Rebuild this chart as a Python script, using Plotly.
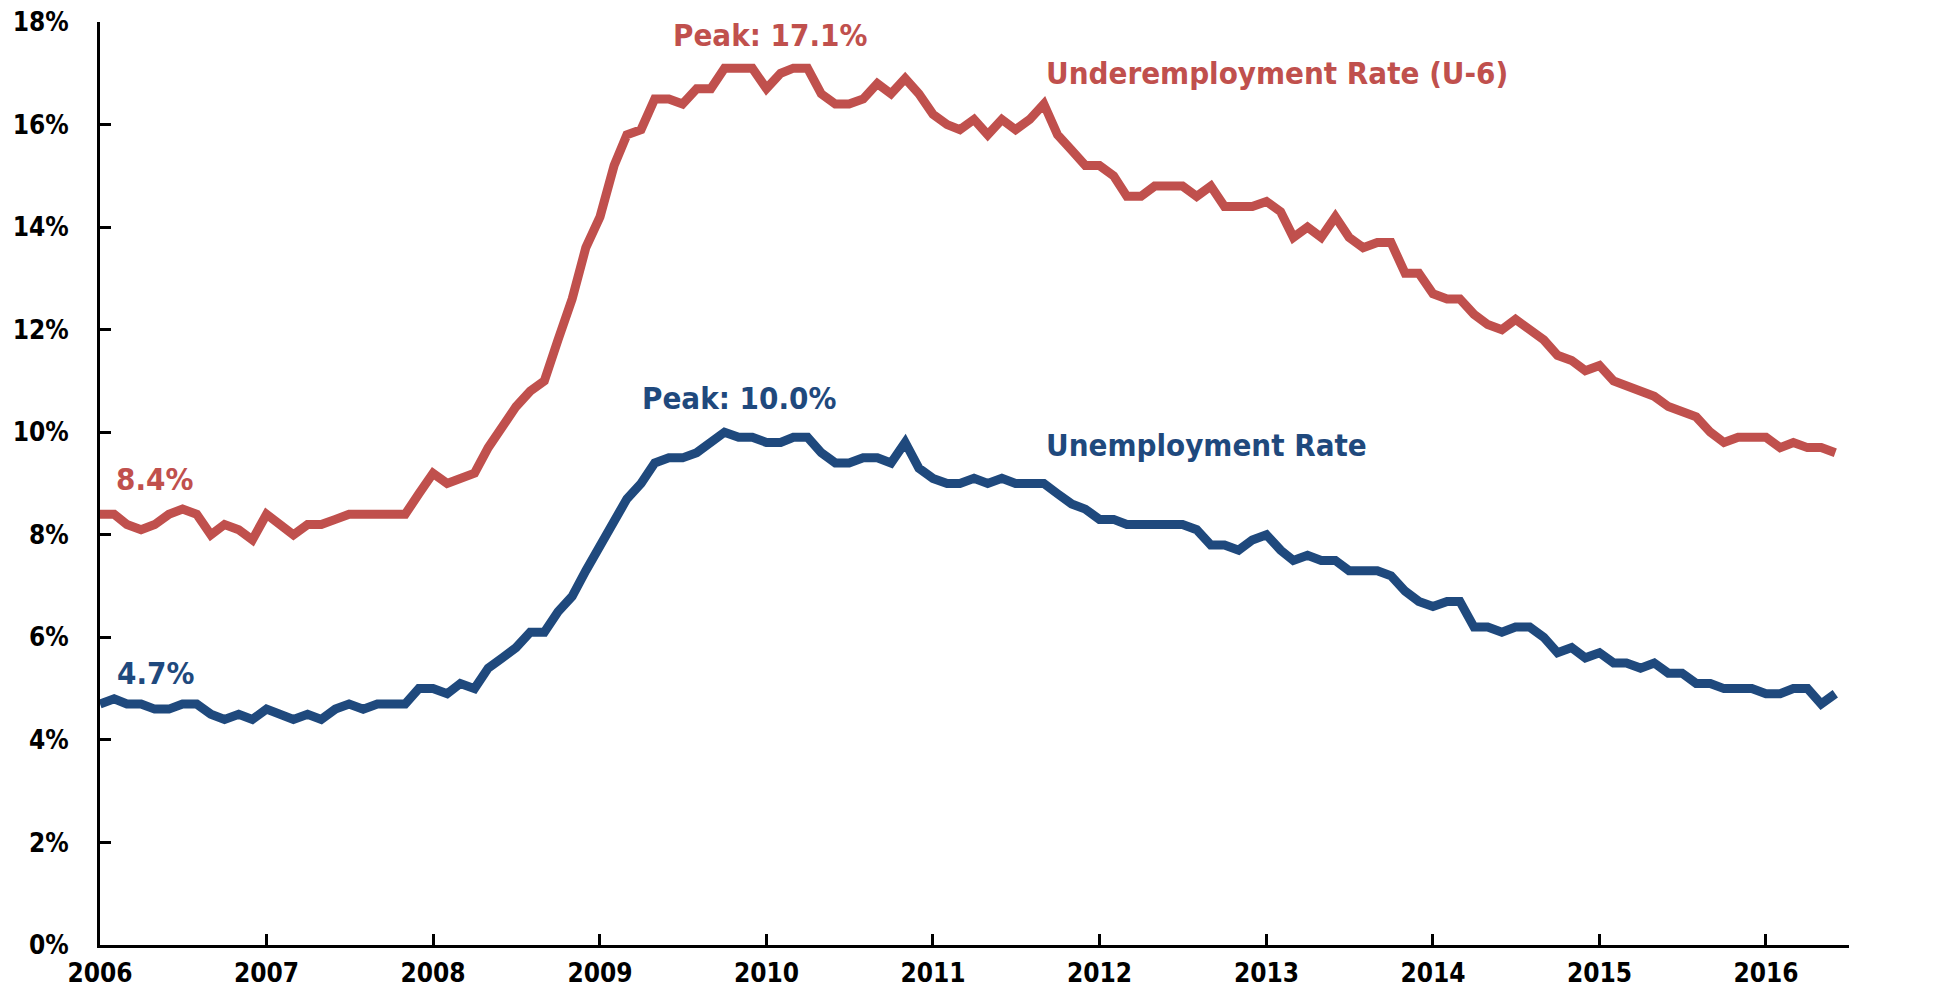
import plotly.graph_objects as go
import pandas as pd

# Monthly data, Jan 2006 - Jun 2016
months = pd.date_range("2006-01-01", "2016-06-01", freq="MS")

unemployment = [
    4.7, 4.8, 4.7, 4.7, 4.6, 4.6, 4.7, 4.7, 4.5, 4.4, 4.5, 4.4,   # 2006
    4.6, 4.5, 4.4, 4.5, 4.4, 4.6, 4.7, 4.6, 4.7, 4.7, 4.7, 5.0,   # 2007
    5.0, 4.9, 5.1, 5.0, 5.4, 5.6, 5.8, 6.1, 6.1, 6.5, 6.8, 7.3,   # 2008
    7.8, 8.3, 8.7, 9.0, 9.4, 9.5, 9.5, 9.6, 9.8, 10.0, 9.9, 9.9,  # 2009
    9.8, 9.8, 9.9, 9.9, 9.6, 9.4, 9.4, 9.5, 9.5, 9.4, 9.8, 9.3,   # 2010
    9.1, 9.0, 9.0, 9.1, 9.0, 9.1, 9.0, 9.0, 9.0, 8.8, 8.6, 8.5,   # 2011
    8.3, 8.3, 8.2, 8.2, 8.2, 8.2, 8.2, 8.1, 7.8, 7.8, 7.7, 7.9,   # 2012
    8.0, 7.7, 7.5, 7.6, 7.5, 7.5, 7.3, 7.3, 7.3, 7.2, 6.9, 6.7,   # 2013
    6.6, 6.7, 6.7, 6.2, 6.2, 6.1, 6.2, 6.2, 6.0, 5.7, 5.8, 5.6,   # 2014
    5.7, 5.5, 5.5, 5.4, 5.5, 5.3, 5.3, 5.1, 5.1, 5.0, 5.0, 5.0,   # 2015
    4.9, 4.9, 5.0, 5.0, 4.7, 4.9,                                 # 2016
]

underemployment = [
    8.4, 8.4, 8.2, 8.1, 8.2, 8.4, 8.5, 8.4, 8.0, 8.2, 8.1, 7.9,        # 2006
    8.4, 8.2, 8.0, 8.2, 8.2, 8.3, 8.4, 8.4, 8.4, 8.4, 8.4, 8.8,        # 2007
    9.2, 9.0, 9.1, 9.2, 9.7, 10.1, 10.5, 10.8, 11.0, 11.8, 12.6, 13.6, # 2008
    14.2, 15.2, 15.8, 15.9, 16.5, 16.5, 16.4, 16.7, 16.7, 17.1, 17.1, 17.1,  # 2009
    16.7, 17.0, 17.1, 17.1, 16.6, 16.4, 16.4, 16.5, 16.8, 16.6, 16.9, 16.6,  # 2010
    16.2, 16.0, 15.9, 16.1, 15.8, 16.1, 15.9, 16.1, 16.4, 15.8, 15.5, 15.2,  # 2011
    15.2, 15.0, 14.6, 14.6, 14.8, 14.8, 14.8, 14.6, 14.8, 14.4, 14.4, 14.4,  # 2012
    14.5, 14.3, 13.8, 14.0, 13.8, 14.2, 13.8, 13.6, 13.7, 13.7, 13.1, 13.1,  # 2013
    12.7, 12.6, 12.6, 12.3, 12.1, 12.0, 12.2, 12.0, 11.8, 11.5, 11.4, 11.2,  # 2014
    11.3, 11.0, 10.9, 10.8, 10.7, 10.5, 10.4, 10.3, 10.0, 9.8, 9.9, 9.9,     # 2015
    9.9, 9.7, 9.8, 9.7, 9.7, 9.6,                                            # 2016
]

year_ticks = [f"{y}-01-01" for y in range(2006, 2017)]
year_labels = [str(y) for y in range(2006, 2017)]
y_ticks = list(range(0, 19, 2))

RED = "#C0504D"
BLUE = "#1F497D"
FONT = "DejaVu Sans Condensed, DejaVu Sans, sans-serif"

fig = go.Figure()
fig.add_trace(go.Scatter(x=months, y=underemployment, mode="lines",
                         line=dict(color=RED, width=9), cliponaxis=False,
                         name="Underemployment Rate (U-6)"))
fig.add_trace(go.Scatter(x=months, y=unemployment, mode="lines",
                         line=dict(color=BLUE, width=9), cliponaxis=False,
                         name="Unemployment Rate"))

u6_peak = max(underemployment)
u3_peak = max(unemployment)

ann = [
    dict(text=f"Peak: {u6_peak:.1f}%", x="2010-01-08", y=17.75, xanchor="center", color=RED),
    dict(text="Underemployment Rate (U-6)", x="2011-09-01", y=17.0, xanchor="left", color=RED),
    dict(text=f"Peak: {u3_peak:.1f}%", x="2009-11-01", y=10.66, xanchor="center", color=BLUE),
    dict(text="Unemployment Rate", x="2011-09-01", y=9.76, xanchor="left", color=BLUE),
    dict(text=f"{underemployment[0]:.1f}%", x="2006-02-01", y=9.08, xanchor="left", color=RED),
    dict(text=f"{unemployment[0]:.1f}%", x="2006-02-03", y=5.31, xanchor="left", color=BLUE),
    dict(text=f"{underemployment[-1]:.1f}%", x="2016-08-02", y=9.62, xanchor="left", color=RED),
    dict(text=f"{unemployment[-1]:.1f}%", x="2016-07-30", y=4.98, xanchor="left", color=BLUE),
]
for a in ann:
    fig.add_annotation(text=a["text"], x=a["x"], y=a["y"], xref="x", yref="y",
                       xanchor=a["xanchor"], yanchor="middle", showarrow=False,
                       font=dict(family=FONT, size=31, color=a["color"], weight="bold"))

fig.update_layout(
    width=1948, height=982,
    margin=dict(l=92, r=107, t=14, b=45, autoexpand=False),
    plot_bgcolor="white", paper_bgcolor="white",
    showlegend=False,
    font=dict(family=FONT, size=26, color="black", weight="bold"),
)
fig.update_xaxes(
    range=["2006-01-01", "2016-07-01"],
    tickvals=year_ticks, ticktext=year_labels,
    showline=True, linecolor="black", linewidth=3,
    ticks="inside", ticklen=11, tickwidth=3, tickcolor="black",
    showgrid=False, zeroline=False, automargin=False,
    ticklabelstandoff=3, ticklabeloverflow="allow",
    tickfont=dict(family=FONT, size=26, color="black", weight="bold"),
)
fig.update_yaxes(
    range=[0, 18],
    tickvals=y_ticks, ticktext=[f"{v}%" for v in y_ticks],
    showline=True, linecolor="black", linewidth=3,
    ticks="inside", ticklen=11, tickwidth=3, tickcolor="black",
    showgrid=False, zeroline=False, automargin=False,
    ticklabelstandoff=23, ticklabeloverflow="allow",
    tickfont=dict(family=FONT, size=26, color="black", weight="bold"),
)

fig.write_html("out.html")
